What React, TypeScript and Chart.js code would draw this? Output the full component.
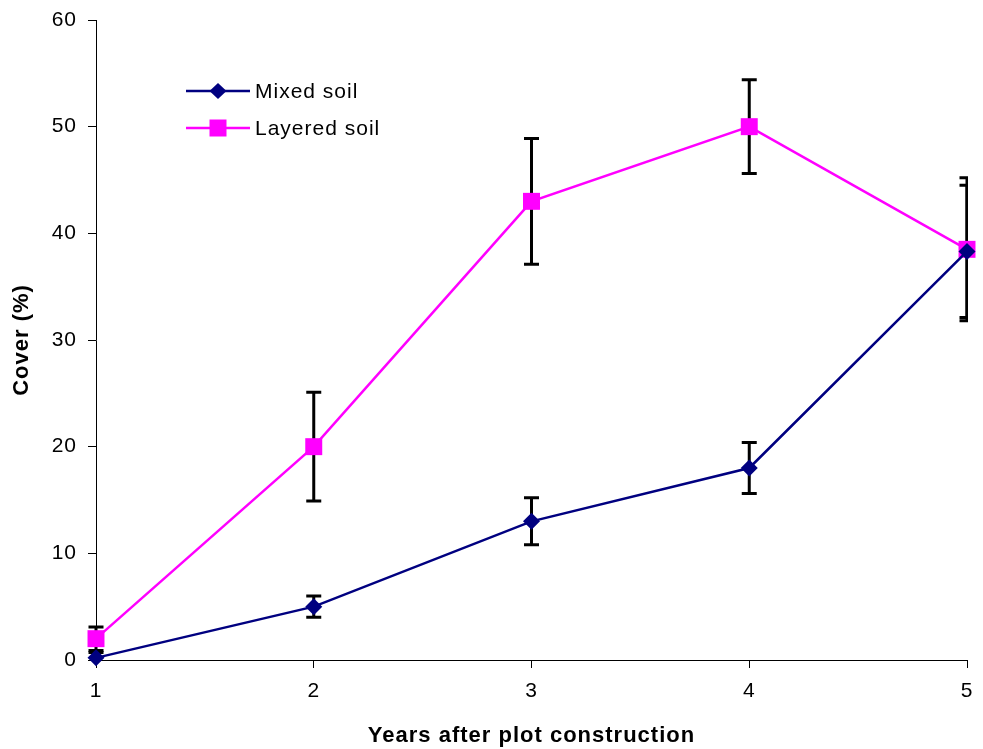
import React, { useEffect, useRef } from "react";
import { Chart, registerables } from "chart.js";

Chart.register(...registerables);

const years = [1, 2, 3, 4, 5];
const mixedSoil = [0.2, 5, 13, 18, 38.3];
const mixedErr = [0.5, 1.0, 2.2, 2.4, 6.2];
const layeredSoil = [2, 20, 43, 50, 38.5];
const layeredErr = [1.1, 5.1, 5.9, 4.4, 6.7];
const yTicks = [0, 10, 20, 30, 40, 50, 60];

const NAVY = "#000080";
const MAGENTA = "#FF00FF";
const FONT = "'Liberation Sans', Arial, sans-serif";

const spacingPlugin = {
  id: "letterSpacing",
  beforeDraw(chart: any) {
    (chart.ctx as any).letterSpacing = "1px";
  },
};

const errorBarPlugin = {
  id: "errorBars",
  beforeDatasetsDraw(chart: any) {
    const { ctx, chartArea, scales } = chart;
    const x = scales.x;
    const y = scales.y;
    ctx.save();
    ctx.beginPath();
    ctx.rect(chartArea.left - 10, chartArea.top - 10, chartArea.right - chartArea.left + 11, chartArea.bottom - chartArea.top + 20);
    ctx.clip();
    ctx.strokeStyle = "#000";
    ctx.lineWidth = 3;
    const sets = [
      { vals: layeredSoil, errs: layeredErr },
      { vals: mixedSoil, errs: mixedErr },
    ];
    sets.forEach((s) => {
      s.vals.forEach((v, i) => {
        const px = x.getPixelForValue(years[i]);
        const top = y.getPixelForValue(v + s.errs[i]);
        const bot = y.getPixelForValue(Math.max(0, v - s.errs[i]));
        ctx.beginPath();
        ctx.moveTo(px, top);
        ctx.lineTo(px, bot);
        ctx.moveTo(px - 7.5, top);
        ctx.lineTo(px + 7.5, top);
        if (v - s.errs[i] >= 0) {
          ctx.moveTo(px - 7.5, bot);
          ctx.lineTo(px + 7.5, bot);
        }
        ctx.stroke();
      });
    });
    ctx.restore();
  },
};

const legendPlugin = {
  id: "customLegend",
  afterDraw(chart: any) {
    const { ctx } = chart;
    const items = [
      { label: "Mixed soil", color: NAVY, style: "diamond", y: 91 },
      { label: "Layered soil", color: MAGENTA, style: "square", y: 128 },
    ];
    ctx.save();
    items.forEach((it) => {
      ctx.strokeStyle = it.color;
      ctx.lineWidth = 2.5;
      ctx.beginPath();
      ctx.moveTo(186, it.y);
      ctx.lineTo(250, it.y);
      ctx.stroke();
      ctx.fillStyle = it.color;
      ctx.beginPath();
      if (it.style === "diamond") {
        ctx.moveTo(218, it.y - 8);
        ctx.lineTo(226.5, it.y);
        ctx.lineTo(218, it.y + 8);
        ctx.lineTo(209.5, it.y);
        ctx.closePath();
      } else {
        ctx.rect(209.5, it.y - 8.5, 17, 17);
      }
      ctx.fill();
      ctx.fillStyle = "#000";
      ctx.font = `21px ${FONT}`;
      ctx.textAlign = "left";
      ctx.textBaseline = "middle";
      ctx.fillText(it.label, 255, it.y + 1);
    });
    ctx.restore();
  },
};

export default function App() {
  const ref = useRef<HTMLCanvasElement>(null);
  useEffect(() => {
    if (!ref.current) return;
    const chart = new Chart(ref.current, {
      type: "line",
      data: {
        datasets: [
          {
            label: "Mixed soil",
            data: years.map((yr, i) => ({ x: yr, y: mixedSoil[i] })),
            borderColor: NAVY,
            backgroundColor: NAVY,
            borderWidth: 2.5,
            pointStyle: "rectRot",
            pointRadius: 8.5,
            pointBorderWidth: 0,
            tension: 0,
            clip: false,
          } as any,
          {
            label: "Layered soil",
            data: years.map((yr, i) => ({ x: yr, y: layeredSoil[i] })),
            borderColor: MAGENTA,
            backgroundColor: MAGENTA,
            borderWidth: 2.5,
            pointStyle: "rect",
            pointRadius: 12,
            pointBorderWidth: 0,
            tension: 0,
            clip: false,
          } as any,
        ],
      },
      options: {
        responsive: false,
        animation: false,
        devicePixelRatio: 1,
        layout: { padding: { top: 20, right: 16, left: 0, bottom: 0 } },
        plugins: {
          legend: { display: false },
          tooltip: { enabled: false },
        },
        scales: {
          x: {
            type: "linear",
            min: 1,
            max: 5,
            afterFit: (s: any) => {
              s.height = 89;
              s.paddingLeft = 0;
              s.paddingRight = 0;
            },
            afterBuildTicks: (s: any) => {
              s.ticks = years.map((v) => ({ value: v }));
            },
            ticks: {
              color: "#000",
              font: { family: FONT, size: 21 },
              padding: 11,
              maxRotation: 0,
              callback: (v: any) => String(v),
            },
            grid: {
              drawOnChartArea: false,
              drawTicks: true,
              tickLength: 8,
              color: "#000",
              lineWidth: 1,
            },
            border: { display: true, color: "#000", width: 1 },
            title: {
              display: true,
              text: "Years after plot construction",
              color: "#000",
              font: { family: FONT, size: 22, weight: "bold" },
              padding: { top: 0, bottom: 0 },
            },
          },
          y: {
            type: "linear",
            min: 0,
            max: 60,
            afterFit: (s: any) => {
              s.width = 96;
              s.paddingTop = 0;
              s.paddingBottom = 0;
            },
            afterBuildTicks: (s: any) => {
              s.ticks = yTicks.map((v) => ({ value: v }));
            },
            ticks: {
              color: "#000",
              font: { family: FONT, size: 21 },
              padding: 11,
              callback: (v: any) => String(v),
            },
            grid: {
              drawOnChartArea: false,
              drawTicks: true,
              tickLength: 8,
              color: "#000",
              lineWidth: 1,
            },
            border: { display: true, color: "#000", width: 1 },
            title: {
              display: true,
              text: "Cover (%)",
              color: "#000",
              font: { family: FONT, size: 22, weight: "bold" },
              padding: { top: 9, bottom: 0 },
            },
          },
        },
      },
      plugins: [spacingPlugin, errorBarPlugin, legendPlugin],
    });
    return () => chart.destroy();
  }, []);

  return (
    <div
      style={{
        position: "absolute",
        left: 0,
        top: 0,
        width: 983,
        height: 749,
        overflow: "hidden",
        background: "#fff",
      }}
    >
      <canvas ref={ref} width={983} height={749} style={{ display: "block" }} />
    </div>
  );
}
